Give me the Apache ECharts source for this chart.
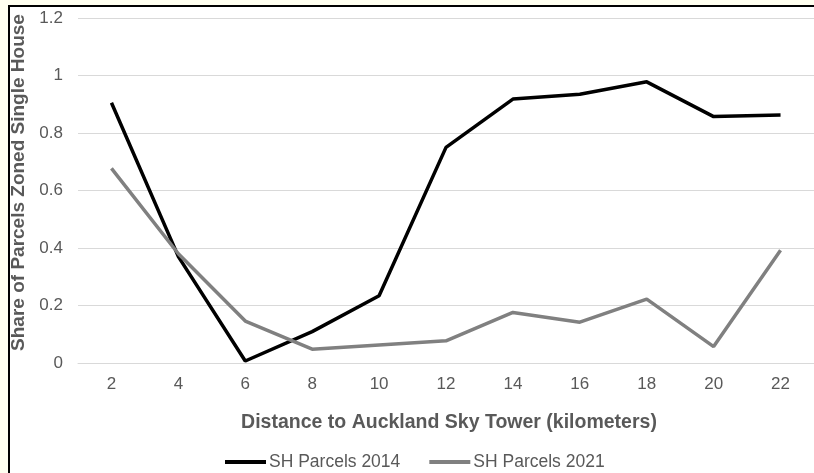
<!DOCTYPE html>
<html>
<head>
<meta charset="utf-8">
<script src="https://cdn.jsdelivr.net/npm/echarts@6/dist/echarts.min.js"></script>
<style>
html,body{margin:0;padding:0;background:#fffff0;width:814px;height:473px;overflow:hidden;}
#frame{position:absolute;left:8px;top:5px;width:806px;height:468px;border-left:2px solid #000;border-top:2px solid #000;background:#fff;box-sizing:border-box;}
#chart{position:absolute;left:0;top:0;width:814px;height:473px;}
</style>
</head>
<body>
<div id="frame"></div>
<div id="chart"></div>
<script>
const categories = ['2','4','6','8','10','12','14','16','18','20','22'];
const sh2014 = [0.905, 0.37, 0.007, 0.109, 0.234, 0.75, 0.918, 0.935, 0.978, 0.857, 0.863];
const sh2021 = [0.677, 0.38, 0.146, 0.048, 0.063, 0.077, 0.176, 0.142, 0.222, 0.057, 0.392];
const seriesNames = ['SH Parcels 2014', 'SH Parcels 2021'];
const xTitle = 'Distance to Auckland Sky Tower (kilometers)';
const yTitle = 'Share of Parcels Zoned Single House';

const chart = echarts.init(document.getElementById('chart'), null, {renderer:'canvas'});
const font = 'Liberation Sans, Arial, sans-serif';
chart.setOption({
  animation:false,
  backgroundColor:'transparent',
  textStyle:{fontFamily:font},
  grid:{left:78, top:18, width:740, bottom:110, containLabel:false},
  legend:{
    data:seriesNames, top:453, left:225, padding:0, icon:'rect', itemWidth:41, itemHeight:4, itemGap:29,
    textStyle:{color:'#595959', fontSize:17.5, fontFamily:font, padding:[0,0,0,-2]}
  },
  xAxis:{
    type:'category', data:categories, boundaryGap:true,
    name:xTitle, nameLocation:'middle', nameGap:50,
    nameTextStyle:{color:'#595959', fontSize:19.5, fontWeight:'bold', fontFamily:font, padding:[0,0,0,6]},
    axisLine:{show:true, lineStyle:{color:'#d9d9d9', width:1}},
    axisTick:{show:false},
    axisLabel:{color:'#595959', fontSize:17, margin:13, fontFamily:font}
  },
  yAxis:{
    type:'value', min:0, max:1.2, interval:0.2,
    name:yTitle, nameLocation:'middle', nameGap:44,
    nameTextStyle:{color:'#595959', fontSize:19, fontWeight:'bold', fontFamily:font, padding:[0,0,0,16]},
    axisLine:{show:false}, axisTick:{show:false},
    axisLabel:{color:'#595959', fontSize:17, margin:15, fontFamily:font,
      formatter:function(v){return String(Math.round(v*10)/10);}},
    splitLine:{lineStyle:{color:'#d9d9d9', width:1}}
  },
  series:[
    {name:seriesNames[0], type:'line', data:sh2014, showSymbol:false, symbol:'none',
     lineStyle:{color:'#000', width:3.5}, itemStyle:{color:'#000'}},
    {name:seriesNames[1], type:'line', data:sh2021, showSymbol:false, symbol:'none',
     lineStyle:{color:'#808080', width:3.5}, itemStyle:{color:'#808080'}}
  ]
});
</script>
</body>
</html>
